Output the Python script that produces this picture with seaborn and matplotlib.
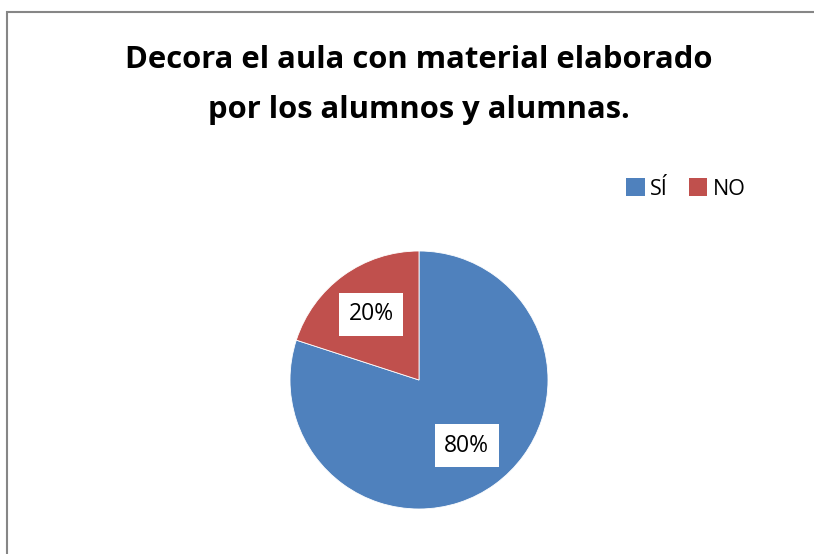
import matplotlib
matplotlib.use('Agg')
import matplotlib.pyplot as plt
import seaborn as sns
from matplotlib.patches import Patch, Rectangle

# data
labels = ['SÍ', 'NO']
values = [80, 20]
colors = ['#4F81BD', '#C0504D']
title = 'Decora el aula con material elaborado\npor los alumnos y alumnas.'

sns.set_style('white')
plt.rcParams['font.family'] = ['Open Sans', 'DejaVu Sans']
plt.rcParams['text.color'] = 'black'

W, H = 814, 554
fig = plt.figure(figsize=(W / 100, H / 100), dpi=100)

# pie centred at (419, 380) px with radius 129 px
cx, cy, r = 419, 380, 129
ax = fig.add_axes([(cx - r) / W, (H - cy - r) / H, 2 * r / W, 2 * r / H])
wedges, texts, autotexts = ax.pie(values, colors=colors, startangle=90, counterclock=False,
                                  autopct='%1.0f%%', pctdistance=0.63,
                                  wedgeprops=dict(edgecolor='white', linewidth=0.6),
                                  textprops=dict(fontsize=16.5, color='black'))
for t in autotexts:
    t.set_bbox(dict(facecolor='white', edgecolor='none', pad=7))
ax.set_xlim(-1, 1)
ax.set_ylim(-1, 1)
ax.axis('off')

fig.text(cx / W, 1 - 85 / H, title, ha='center', va='center', fontsize=22.3,
         fontweight='bold', linespacing=1.85, color='black')

handles = [Patch(facecolor=c, edgecolor='none') for c in colors]
fig.legend(handles, labels, loc='center', bbox_to_anchor=(686 / W, 1 - 189 / H),
           ncol=2, frameon=False, fontsize=15.5, handlelength=0.84, handleheight=0.88,
           handletextpad=0.25, columnspacing=1.0, labelcolor='black')

# chart area border (cut off at right and bottom)
fig.patches.append(Rectangle((7 / W, -0.1), 1.2, 1 - 12 / H + 0.1, transform=fig.transFigure,
                             fill=False, edgecolor='#868686', linewidth=1.5))

fig.savefig('out.png', dpi=100)
